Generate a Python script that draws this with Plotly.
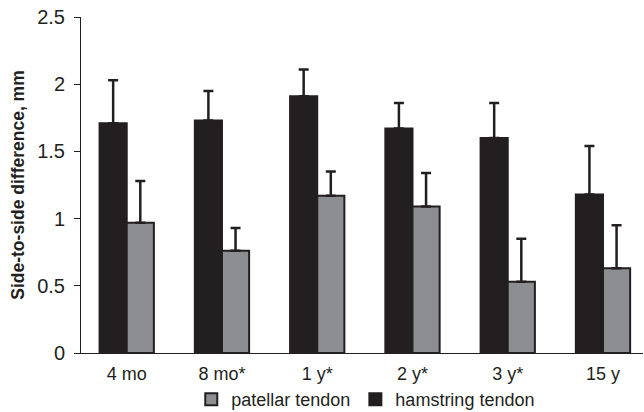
import plotly.graph_objects as go

# Follow-up time points
categories = ["4 mo", "8 mo*", "1 y*", "2 y*", "3 y*", "15 y"]

# Mean side-to-side difference (mm) and upper SD
hamstring_mean = [1.71, 1.73, 1.91, 1.67, 1.60, 1.18]
hamstring_sd = [0.32, 0.22, 0.20, 0.19, 0.26, 0.36]
patellar_mean = [0.97, 0.76, 1.17, 1.09, 0.53, 0.63]
patellar_sd = [0.31, 0.17, 0.18, 0.25, 0.32, 0.32]

y_ticks = [0, 0.5, 1, 1.5, 2, 2.5]

DARK = "#231f20"
GRAY = "#8d8e91"
FONT = "Liberation Sans, Arial, sans-serif"

fig = go.Figure()

fig.add_trace(go.Bar(
    x=categories, y=hamstring_mean, name="hamstring tendon",
    marker=dict(color=DARK, line=dict(color=DARK, width=2)),
    error_y=dict(type="data", array=hamstring_sd, symmetric=False,
                 arrayminus=[0] * len(hamstring_sd),
                 color=DARK, thickness=2.5, width=5),
))
fig.add_trace(go.Bar(
    x=categories, y=patellar_mean, name="patellar tendon",
    marker=dict(color=GRAY, line=dict(color=DARK, width=2)),
    error_y=dict(type="data", array=patellar_sd, symmetric=False,
                 arrayminus=[0] * len(patellar_sd),
                 color=DARK, thickness=2.5, width=5),
))

fig.update_layout(
    width=644, height=412,
    margin=dict(l=81, r=1, t=17, b=59, autoexpand=False),
    paper_bgcolor="white", plot_bgcolor="white",
    barmode="group", bargap=0.43, bargroupgap=0,
    font=dict(family=FONT, color=DARK),
    showlegend=True,
    legend=dict(
        orientation="h", traceorder="reversed",
        xref="container", x=0.297, xanchor="left",
        yref="container", y=0.03, yanchor="middle",
        font=dict(size=18, color=DARK), itemwidth=30,
        bgcolor="rgba(0,0,0,0)",
    ),
    xaxis=dict(
        type="category", range=[-0.48, 5.42],
        showline=True, linecolor=DARK, linewidth=1,
        ticks="", showgrid=False, zeroline=False,
        tickfont=dict(size=18, color=DARK), ticklabelstandoff=4,
    ),
    yaxis=dict(
        range=[0, 2.5], tickvals=y_ticks,
        showline=True, linecolor=DARK, linewidth=1,
        ticks="outside", ticklen=6, tickcolor=DARK, tickwidth=1,
        showgrid=False, zeroline=False,
        tickfont=dict(size=20, color=DARK), ticklabelstandoff=5,
        title=dict(text="<b>Side-to-side difference, mm</b>",
                   font=dict(size=17.5, color=DARK), standoff=8),
    ),
)

fig.write_html("out.html")
